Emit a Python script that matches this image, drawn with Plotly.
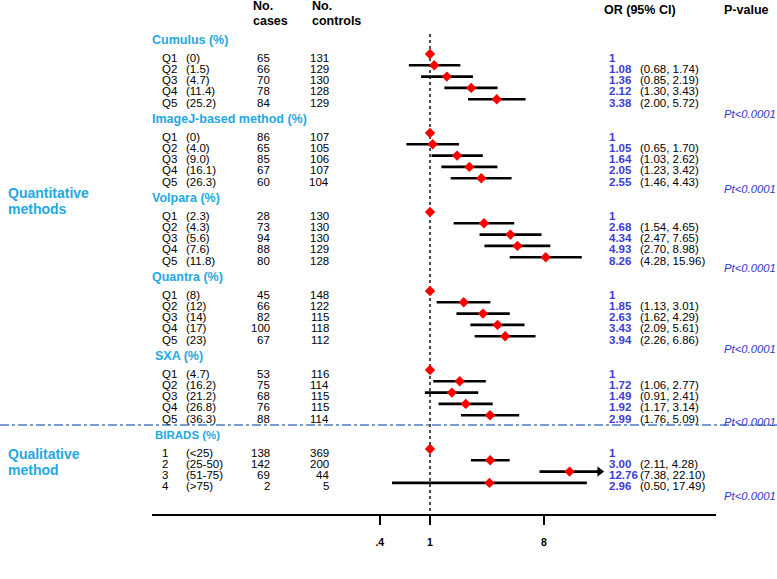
import math
import plotly.graph_objects as go

# ---------------- data ----------------
group_titles = ["Cumulus (%)", "ImageJ-based method (%)", "Volpara (%)",
                "Quantra (%)", "SXA (%)", "BIRADS (%)"]

q_labels = ["Q1", "Q2", "Q3", "Q4", "Q5"]
birads_labels = ["1", "2", "3", "4"]

cumulus_vals = ["(0)", "(1.5)", "(4.7)", "(11.4)", "(25.2)"]
cumulus_cases = [65, 66, 70, 78, 84]
cumulus_controls = [131, 129, 130, 128, 129]
cumulus_or = [1, 1.08, 1.36, 2.12, 3.38]
cumulus_lo = [None, 0.68, 0.85, 1.30, 2.00]
cumulus_hi = [None, 1.74, 2.19, 3.43, 5.72]

imagej_vals = ["(0)", "(4.0)", "(9.0)", "(16.1)", "(26.3)"]
imagej_cases = [86, 65, 85, 67, 60]
imagej_controls = [107, 105, 106, 107, 104]
imagej_or = [1, 1.05, 1.64, 2.05, 2.55]
imagej_lo = [None, 0.65, 1.03, 1.23, 1.46]
imagej_hi = [None, 1.70, 2.62, 3.42, 4.43]

volpara_vals = ["(2.3)", "(4.3)", "(5.6)", "(7.6)", "(11.8)"]
volpara_cases = [28, 73, 94, 88, 80]
volpara_controls = [130, 130, 130, 129, 128]
volpara_or = [1, 2.68, 4.34, 4.93, 8.26]
volpara_lo = [None, 1.54, 2.47, 2.70, 4.28]
volpara_hi = [None, 4.65, 7.65, 8.98, 15.96]

quantra_vals = ["(8)", "(12)", "(14)", "(17)", "(23)"]
quantra_cases = [45, 66, 82, 100, 67]
quantra_controls = [148, 122, 115, 118, 112]
quantra_or = [1, 1.85, 2.63, 3.43, 3.94]
quantra_lo = [None, 1.13, 1.62, 2.09, 2.26]
quantra_hi = [None, 3.01, 4.29, 5.61, 6.86]

sxa_vals = ["(4.7)", "(16.2)", "(21.2)", "(26.8)", "(36.3)"]
sxa_cases = [53, 75, 68, 76, 88]
sxa_controls = [116, 114, 115, 115, 114]
sxa_or = [1, 1.72, 1.49, 1.92, 2.99]
sxa_lo = [None, 1.06, 0.91, 1.17, 1.76]
sxa_hi = [None, 2.77, 2.41, 3.14, 5.09]

birads_vals = ["(<25)", "(25-50)", "(51-75)", "(>75)"]
birads_cases = [138, 142, 69, 2]
birads_controls = [369, 200, 44, 5]
birads_or = [1, 3.00, 12.76, 2.96]
birads_lo = [None, 2.11, 7.38, 0.50]
birads_hi = [None, 4.28, 22.10, 17.49]

p_values = ["Pt<0.0001"] * 6
tick_vals = [0.4, 1, 8]
tick_text = [".4", "1", "8"]

groups = [
    (q_labels, cumulus_vals, cumulus_cases, cumulus_controls, cumulus_or, cumulus_lo, cumulus_hi),
    (q_labels, imagej_vals, imagej_cases, imagej_controls, imagej_or, imagej_lo, imagej_hi),
    (q_labels, volpara_vals, volpara_cases, volpara_controls, volpara_or, volpara_lo, volpara_hi),
    (q_labels, quantra_vals, quantra_cases, quantra_controls, quantra_or, quantra_lo, quantra_hi),
    (q_labels, sxa_vals, sxa_cases, sxa_controls, sxa_or, sxa_lo, sxa_hi),
    (birads_labels, birads_vals, birads_cases, birads_controls, birads_or, birads_lo, birads_hi),
]

# ---------------- layout constants ----------------
W, H = 777, 579
FONT = "Liberation Sans, Arial, sans-serif"
TITLE_BLUE = "#1FA8E2"
OR_BLUE = "#3C3CD6"
P_BLUE = "#3535C8"
PX_PER_LN = 54.8
X_ONE = 430
AX_L, AX_R, AX_Y = 152, 716, 514
ROW0, GROUP_STEP, ROW_STEP = 54, 79, 11.3
TEXT_DY = 3.5
P_OFFSETS = [15, 11, 11, 13, 7, 13]


def px2log10(px):
    return (px - X_ONE) / PX_PER_LN / math.log(10)


fig = go.Figure()


def txt(x_px, y, s, size=11.5, color="black", anchor="left", bold=False, italic=False):
    if bold:
        s = "<b>" + s + "</b>"
    if italic:
        s = "<i>" + s + "</i>"
    fig.add_annotation(x=x_px / W, xref="paper", y=y, yref="y", text=s,
                       showarrow=False, xanchor=anchor, yanchor="middle",
                       font=dict(family=FONT, size=size, color=color))


ci_x, ci_y = [], []
pt_x, pt_y = [], []
arrow_traces = []

for g, (labs, vals, cases, ctrls, ors, los, his) in enumerate(groups):
    first = ROW0 + GROUP_STEP * g
    # group title
    title_x = 150 if g < 4 else 153
    title_size = 12.5 if g < 5 else 11.5
    txt(title_x, first - 14.5, group_titles[g], size=title_size, color=TITLE_BLUE, bold=True)
    for i in range(len(labs)):
        y = first + ROW_STEP * i
        ty = y + TEXT_DY
        txt(160, ty, labs[i])
        txt(184, ty, vals[i])
        txt(272, ty, str(cases[i]), anchor="right")
        txt(331, ty, str(ctrls[i]), anchor="right")
        or_s = f"{ors[i]:.2f}" if los[i] is not None else "1"
        txt(607, ty, or_s, size=11.5, color=OR_BLUE, bold=True)
        if los[i] is not None:
            txt(638, ty, f"({los[i]:.2f}, {his[i]:.2f})")
            if his[i] > 20:
                arrow_traces.append(([los[i], his[i]], [y, y]))
            else:
                ci_x += [los[i], his[i], None]
                ci_y += [y, y, None]
        pt_x.append(ors[i])
        pt_y.append(y)
    last = first + ROW_STEP * (len(labs) - 1)
    txt(722, last + P_OFFSETS[g], p_values[g], size=11.3, color=P_BLUE, italic=True)

# reference line at OR = 1
fig.add_trace(go.Scatter(x=[1, 1], y=[34, AX_Y], mode="lines",
                         line=dict(color="black", width=1.4, dash="dot"),
                         hoverinfo="skip", showlegend=False))
# CI lines
fig.add_trace(go.Scatter(x=ci_x, y=ci_y, mode="lines",
                         line=dict(color="black", width=2.6),
                         hoverinfo="skip", showlegend=False))
for ax_, ay_ in arrow_traces:
    fig.add_trace(go.Scatter(x=ax_, y=ay_, mode="lines",
                             line=dict(color="black", width=2.6),
                             hoverinfo="skip", showlegend=False))
    fig.add_trace(go.Scatter(x=[ax_[1]], y=[ay_[1]], mode="markers",
                             marker=dict(symbol="triangle-right", size=9, color="black",
                                         line=dict(width=0)),
                             hoverinfo="skip", showlegend=False))
# point estimates
fig.add_trace(go.Scatter(x=pt_x, y=pt_y, mode="markers",
                         marker=dict(symbol="diamond", size=8, color="#FF0000",
                                     line=dict(width=0)),
                         showlegend=False))

# headers
txt(251, 6, "No.", size=12.5, bold=True)
txt(251, 21, "cases", size=12.5, bold=True)
txt(310, 6, "No.", size=12.5, bold=True)
txt(310, 21, "controls", size=12.5, bold=True)
txt(602, 10, "OR (95% CI)", size=12.5, bold=True)
txt(722, 10, "P-value", size=12.5, bold=True)

# side labels
txt(6, 193, "Quantitative", size=14, color=TITLE_BLUE, bold=True)
txt(6, 209, "methods", size=14, color=TITLE_BLUE, bold=True)
txt(6, 454, "Qualitative", size=14, color=TITLE_BLUE, bold=True)
txt(6, 470, "method", size=14, color=TITLE_BLUE, bold=True)

# axis title
txt(379, 573, "Odds ratio  (OR)", size=11, bold=True)

# separator line
sep_y = ROW0 + GROUP_STEP * 5 - 24
fig.add_shape(type="line", xref="paper", yref="y", x0=0, x1=1, y0=sep_y, y1=sep_y,
              line=dict(color="#4A7EC0", width=1.5, dash="dashdot"))

fig.update_layout(
    width=W, height=H,
    margin=dict(l=0, r=0, t=0, b=H - AX_Y, pad=0),
    paper_bgcolor="white", plot_bgcolor="white",
    xaxis=dict(type="log", domain=[AX_L / W, AX_R / W],
               range=[px2log10(AX_L), px2log10(AX_R)],
               showgrid=False, zeroline=False, showline=True,
               linecolor="black", linewidth=1.5,
               ticks="outside", ticklen=9, tickwidth=2, tickcolor="black",
               tickvals=tick_vals, ticktext=["<b>" + t + "</b>" for t in tick_text],
               tickfont=dict(family=FONT, size=10.5, color="black"),
               ticklabelstandoff=9),
    yaxis=dict(range=[AX_Y, 0], visible=False, showgrid=False, zeroline=False),
    showlegend=False,
)

fig.write_html("out.html", config={"displayModeBar": False},
               post_script="document.body.style.margin='0';document.body.style.padding='0';")
